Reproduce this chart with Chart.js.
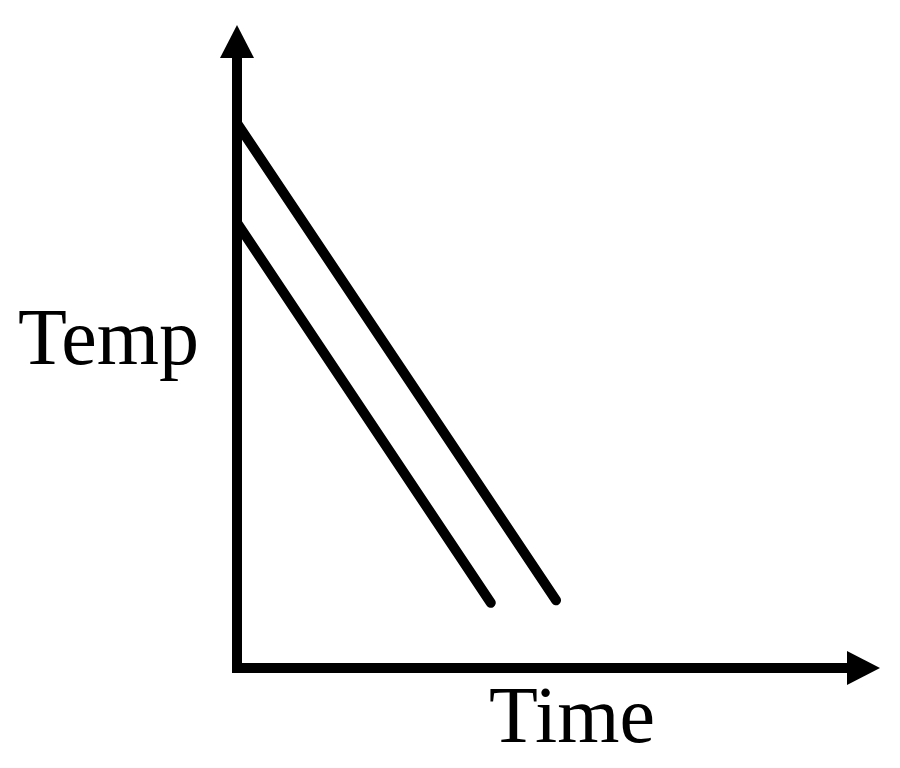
<!DOCTYPE html>
<html>
<head>
<meta charset="utf-8">
<title>Temp vs Time</title>
<script src="https://cdn.jsdelivr.net/npm/chart.js@4/dist/chart.umd.min.js"></script>
<style>
    html, body { margin: 0; padding: 0; background: #fff; }
    canvas { display: block; }
</style>
</head>
<body>
<canvas id="chart" width="900" height="768"></canvas>
<script>
"use strict";

// two cooling curves (x: time, y: temperature, 0..100 axes)
const upperTime = [0, 52.3];
const upperTemp = [89.3, 11.1];
const lowerTime = [0, 41.6];
const lowerTemp = [73.0, 10.7];

// the axis names sit where a single tick label would
const xTickValues = [54.9];
const xTickLabels = ["Time"];
const yTickValues = [53.2];
const yTickLabels = ["Temp"];

const toPoints = (xs, ys) => xs.map((x, i) => ({ x: x, y: ys[i] }));

const serif = "'Liberation Serif', 'DejaVu Serif', serif";

// arrow heads on the ends of both axes
const axisArrows = {
    id: "axisArrows",
    afterDraw(chart) {
        const { ctx, chartArea } = chart;
        const len = 33, half = 17;
        ctx.save();
        ctx.fillStyle = "#000";
        ctx.beginPath();
        ctx.moveTo(chartArea.left, chartArea.top - len);
        ctx.lineTo(chartArea.left - half, chartArea.top);
        ctx.lineTo(chartArea.left + half, chartArea.top);
        ctx.closePath();
        ctx.fill();
        ctx.beginPath();
        ctx.moveTo(chartArea.right + len, chartArea.bottom);
        ctx.lineTo(chartArea.right, chartArea.bottom - half);
        ctx.lineTo(chartArea.right, chartArea.bottom + half);
        ctx.closePath();
        ctx.fill();
        // square off the corner where the two axis lines meet
        ctx.fillRect(chartArea.left - 5, chartArea.bottom - 5, 10, 10);
        ctx.restore();
    }
};

const lineStyle = {
    borderColor: "#000",
    borderWidth: 10,
    borderCapStyle: "round",
    pointRadius: 0,
    fill: false,
    tension: 0
};

const singleTicks = (values) => (scale) => {
    scale.ticks = values.map((v) => ({ value: v }));
};

new Chart(document.getElementById("chart").getContext("2d"), {
    type: "line",
    data: {
        datasets: [
            Object.assign({ label: "upper", data: toPoints(upperTime, upperTemp) }, lineStyle),
            Object.assign({ label: "lower", data: toPoints(lowerTime, lowerTemp) }, lineStyle)
        ]
    },
    options: {
        responsive: false,
        animation: false,
        events: [],
        layout: { padding: { top: 58, right: 53, left: 0, bottom: 0 } },
        plugins: { legend: { display: false }, tooltip: { enabled: false } },
        scales: {
            x: {
                type: "linear",
                min: 0,
                max: 100,
                grid: { display: false, drawTicks: false },
                border: { display: true, color: "#000", width: 10 },
                afterBuildTicks: singleTicks(xTickValues),
                ticks: {
                    color: "#000",
                    padding: 5,
                    maxRotation: 0,
                    font: { family: serif, size: 80 },
                    callback: (value) => xTickLabels[xTickValues.indexOf(value)] || ""
                },
                afterFit: (scale) => {
                    scale.height = 100;
                    scale.paddingLeft = 0;
                    scale.paddingRight = 0;
                }
            },
            y: {
                type: "linear",
                min: 0,
                max: 100,
                grid: { display: false, drawTicks: false },
                border: { display: true, color: "#000", width: 10 },
                afterBuildTicks: singleTicks(yTickValues),
                ticks: {
                    color: "#000",
                    padding: 38,
                    font: { family: serif, size: 80 },
                    callback: (value) => yTickLabels[yTickValues.indexOf(value)] || ""
                },
                afterFit: (scale) => {
                    scale.width = 237;
                    scale.paddingTop = 0;
                    scale.paddingBottom = 0;
                }
            }
        }
    },
    plugins: [axisArrows]
});
</script>
</body>
</html>
